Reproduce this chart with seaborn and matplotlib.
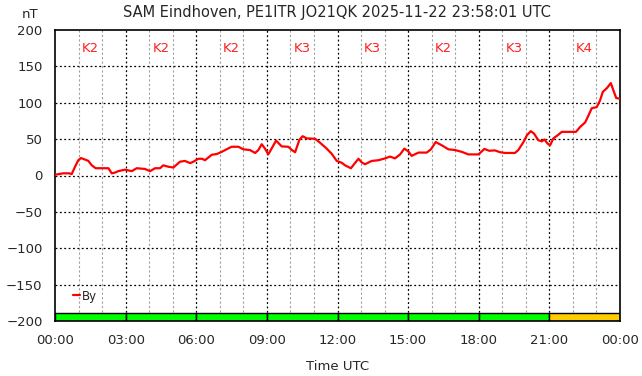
import matplotlib
matplotlib.use("Agg")
import matplotlib.pyplot as plt
import seaborn as sns
import pandas as pd
import numpy as np

# By component (hours since 00:00 UTC, nT)
hours = [0, 0.35, 0.6, 0.71, 0.85, 0.99, 1.1, 1.27, 1.42, 1.56, 1.73, 2.0, 2.27,
         2.41, 2.55, 2.69, 2.97, 3.12, 3.26, 3.47, 3.82, 4.04, 4.25, 4.46, 4.6,
         4.82, 5.03, 5.31, 5.52, 5.74, 5.88, 6.09, 6.25, 6.37, 6.66, 6.87, 7.08,
         7.29, 7.5, 7.79, 8.0, 8.28, 8.5, 8.64, 8.78, 8.92, 9.06, 9.2, 9.39, 9.63,
         9.91, 10.06, 10.2, 10.38, 10.52, 10.69, 11.05, 11.26, 11.54, 11.75,
         11.97, 12.18, 12.32, 12.57, 12.74, 12.89, 13.03, 13.17, 13.45, 13.74,
         14.02, 14.23, 14.44, 14.66, 14.84, 15.01, 15.15, 15.44, 15.79, 15.97,
         16.17, 16.43, 16.71, 16.99, 17.28, 17.56, 17.99, 18.24, 18.44, 18.69,
         18.9, 19.12, 19.54, 19.68, 19.9, 20.04, 20.21, 20.35, 20.53, 20.68,
         20.79, 20.92, 21.03, 21.17, 21.38, 21.53, 21.88, 22.13, 22.3, 22.52,
         22.66, 22.8, 23.01, 23.15, 23.27, 23.44, 23.61, 23.72, 23.84, 24.0]
by_nt = [1, 3, 3, 2, 12, 21, 24, 22, 20, 14, 10, 10, 10,
         3, 4, 6, 8, 7, 6, 10, 9, 6, 10, 10, 14,
         12, 11, 19, 20, 17, 19, 23, 23, 21, 28.5, 29.5, 32.5,
         36, 39.5, 39.5, 36, 35, 31, 35, 43, 37, 29, 37, 48, 40,
         39.5, 35, 32, 49, 54, 51, 50.5, 45, 37, 30,
         20, 17.5, 14, 10, 17, 23, 18, 15.5, 20, 21,
         23.5, 26, 23.5, 29, 37, 33, 27, 31.5, 31.5, 36,
         46, 41.5, 36, 35, 32.5, 29, 29, 36.5, 34, 34.5,
         32, 31, 31, 35, 46, 55, 61, 57.5, 48.5, 47,
         49.5, 44, 41.5, 51, 56, 60, 60, 60, 66.5, 73,
         82.5, 92.5, 94, 103, 115, 120, 127, 117, 106.5, 105.5]

# 3-hour K index blocks
k_start = [0, 3, 6, 9, 12, 15, 18, 21]
k_labels = ["K2", "K2", "K2", "K3", "K3", "K2", "K3", "K4"]
k_colors = ["#00ff00"] * 7 + ["#ffcc00"]

x_ticks = list(range(0, 25, 3))
x_ticklabels = ["00:00", "03:00", "06:00", "09:00", "12:00", "15:00", "18:00", "21:00", "00:00"]

sns.set_style("white")
plt.rcParams['font.family'] = ['DejaVu Sans']
fs = 9.5

df = pd.DataFrame({"hour": hours, "By": by_nt})

fig = plt.figure(figsize=(6.42, 3.76), dpi=100)
ax = fig.add_axes([55/642, 1 - 321/376, 565/642, 291/376])

# K index bars along the bottom
ax.bar(k_start, [11] * len(k_start), width=3, bottom=-200, align="edge",
       color=k_colors, edgecolor="black", linewidth=1, zorder=2)

# grid
for h in range(1, 24):
    if h % 3:
        ax.axvline(h, color="#a0a0a0", linestyle=(0, (2, 2)), linewidth=0.8, zorder=1)
    else:
        ax.axvline(h, color="black", linestyle=(0, (1.5, 2)), linewidth=0.9, zorder=3)
for v in range(-200, 200, 50):
    ax.axhline(v, color="black", linestyle=(0, (1.5, 2)), linewidth=0.9, zorder=3)

sns.lineplot(data=df, x="hour", y="By", ax=ax, color="red", linewidth=1.6,
             label="By", zorder=4)

for s, lab in zip(k_start, k_labels):
    ax.text(s + 1.5, 174, lab, color="#ff2020", fontsize=fs, ha="center", va="center", zorder=5)

ax.set_xlim(0, 24)
ax.set_ylim(-200, 200)
ax.set_xticks(x_ticks)
ax.set_xticklabels(x_ticklabels)
ax.set_yticks(range(-200, 201, 50))
ax.tick_params(axis="both", length=0, labelsize=fs)
ax.tick_params(axis="y", pad=9)
ax.tick_params(axis="x", pad=9)
ax.set_xlabel("Time UTC", fontsize=fs, labelpad=10)
ax.set_ylabel("")
for sp in ax.spines.values():
    sp.set_color("black")
    sp.set_linewidth(1.2)

ax.legend(loc="lower left", bbox_to_anchor=(0.022, 0.043), frameon=False,
          fontsize=fs - 1, handlelength=0.6, handletextpad=0.1, borderpad=0)

fig.text(30/642, 1 - 14/376, "nT", fontsize=fs, ha="center", va="center")
fig.text(337/642, 1 - 12/376, "SAM Eindhoven, PE1ITR JO21QK 2025-11-22 23:58:01 UTC",
         fontsize=fs + 1, ha="center", va="center")

fig.savefig("out.png", dpi=100)
